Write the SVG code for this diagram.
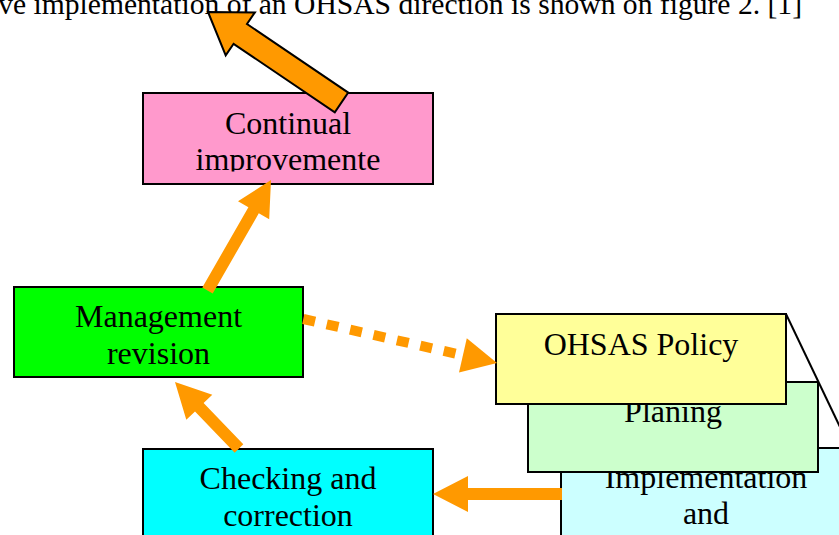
<svg xmlns="http://www.w3.org/2000/svg" width="839" height="535" viewBox="0 0 839 535">
<style>
.box{stroke:#000;stroke-width:2}
.t{font-family:"Liberation Serif","Times New Roman",serif;font-size:32px;fill:#000;text-anchor:middle}
.arr{fill:#FF9900;stroke:none}
</style>
<defs>
<clipPath id="clipCont"><rect x="143" y="93" width="290" height="78.5"/></clipPath>
</defs>
<rect width="839" height="535" fill="#fff"/>
<text id="caption" x="802" y="14" style="font-family:'Liberation Serif','Times New Roman',serif;font-size:29.6px;text-anchor:end">ve implementation of an OHSAS direction is shown on figure 2. [1]</text>
<g id="continual">
<rect class="box" x="143" y="93" width="290" height="91" fill="#FF99CC"/>
<g clip-path="url(#clipCont)">
<text class="t" x="288" y="134">Continual</text>
<text class="t" x="288" y="170">improvemente</text>
</g>
</g>
<g id="management">
<rect class="box" x="14" y="287" width="289" height="90" fill="#00FF00"/>
<text class="t" x="158.5" y="327">Management</text>
<text class="t" x="158.5" y="364">revision</text>
</g>
<g id="checking">
<rect class="box" x="143" y="449" width="290" height="100" fill="#00FFFF"/>
<text class="t" x="288" y="489">Checking and</text>
<text class="t" x="288" y="526">correction</text>
</g>
<g id="implementation">
<rect class="box" x="561" y="448" width="290" height="100" fill="#CCFFFF"/>
<text class="t" x="706" y="488">Implementation</text>
<text class="t" x="706" y="524">and</text>
</g>
<g id="planing">
<rect class="box" x="528" y="382" width="290" height="90" fill="#CCFFCC"/>
<text class="t" x="673" y="422">Planing</text>
</g>
<g id="policy">
<rect class="box" x="496" y="314" width="290" height="90" fill="#FFFF99"/>
<text class="t" x="641" y="355">OHSAS Policy</text>
</g>
<line id="stack-edge" x1="786" y1="314" x2="851" y2="450" stroke="#000" stroke-width="2"/>
<g id="connectors">
<polygon class="arr" points="202.3,287.5 248.4,207.3 238,201.3 271,180 269.2,219.3 258.8,213.3 212.7,293.5"/>
<polygon class="arr" points="243.3,444.3 203.6,403 212.3,394.7 175,382 186.3,419.7 195,411.4 234.7,452.7"/>
<polygon class="arr" points="562,488 468,488 468,476 433,494 468,512 468,500 562,500"/>
<line x1="303.3" y1="319" x2="463" y2="355.3" stroke="#FF9900" stroke-width="10" stroke-dasharray="12 12"/>
<polygon class="arr" points="497,363 466.8,338.2 459,372.4"/>
<polygon points="208,12 254.9,12.4 247,24 348.2,92.6 334.8,112.4 233.6,43.8 225.7,55.4" fill="#FF9900" stroke="#000" stroke-width="2" stroke-linejoin="miter"/>
</g>
</svg>
